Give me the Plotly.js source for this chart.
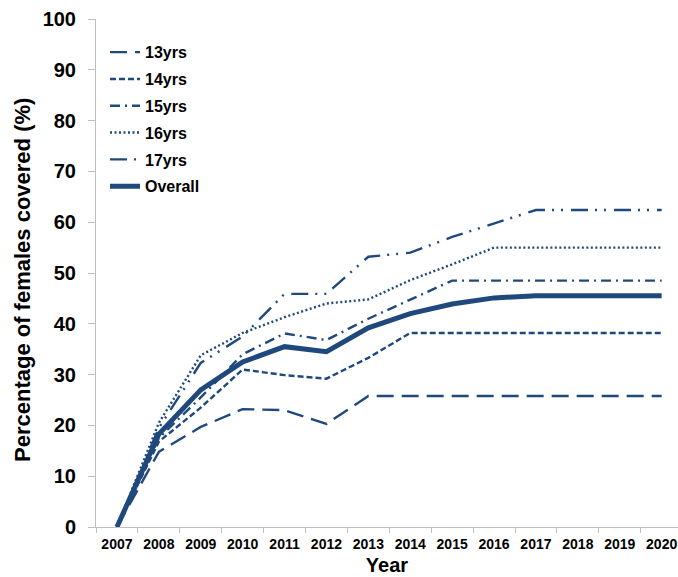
<!DOCTYPE html>
<html>
<head>
<meta charset="utf-8">
<script src="https://cdn.plot.ly/plotly-3.0.1.min.js"></script>
<style>html,body{margin:0;padding:0;background:#fff;}#chart{width:678px;height:577px;}</style>
</head>
<body>
<div id="chart"></div>
<script>
var years = ['2007','2008','2009','2010','2011','2012','2013','2014','2015','2016','2017','2018','2019','2020'];
var y13yrs = [0, 14.8, 19.7, 23.2, 23.0, 20.3, 25.8, 25.8, 25.8, 25.8, 25.8, 25.8, 25.8, 25.8];
var y14yrs = [0, 16.8, 23.5, 31.0, 29.9, 29.2, 33.3, 38.2, 38.2, 38.2, 38.2, 38.2, 38.2, 38.2];
var y15yrs = [0, 17.5, 25.5, 34.0, 38.1, 36.8, 41.0, 44.7, 48.5, 48.5, 48.5, 48.5, 48.5, 48.5];
var y16yrs = [0, 20.5, 33.8, 38.2, 41.3, 44.0, 44.8, 48.6, 51.7, 55.0, 55.0, 55.0, 55.0, 55.0];
var y17yrs = [0, 19.5, 32.3, 37.5, 45.9, 45.9, 53.2, 54.0, 57.1, 59.7, 62.4, 62.4, 62.4, 62.4];
var yOverall = [0, 18.3, 27.0, 32.5, 35.5, 34.5, 39.2, 42.0, 43.9, 45.1, 45.5, 45.5, 45.5, 45.5];
var seriesNames = ['13yrs','14yrs','15yrs','16yrs','17yrs','Overall'];
var yTitle = 'Percentage of females covered (%)';
var xTitle = 'Year';

var col = '#1F497D';
var fontFam = 'Liberation Sans, Arial, sans-serif';
var seriesData = [y13yrs, y14yrs, y15yrs, y16yrs, y17yrs, yOverall];
var dashes = ['17px,8px', '6px,3px', '10px,5px,2px,5px', '2px,2.5px', '17px,7px,2px,7px,2px,8px', 'solid'];
var widths = [2.4, 2.4, 2.4, 2.4, 2.4, 5];

var traces = seriesData.map(function(d, i){
  return {
    type: 'scatter', mode: 'lines', x: years, y: d, name: seriesNames[i],
    legendgroup: 'g' + i,
    line: {color: col, width: widths[i], dash: dashes[i]}
  };
});

var pw = 678 - 96;
var ph = 577 - 19 - 50;
var layout = {
  width: 678, height: 577,
  margin: {l: 96, r: 0, t: 19, b: 50, pad: 0},
  paper_bgcolor: '#fff', plot_bgcolor: '#fff',
  showlegend: true,
  legend: {
    x: 9/pw, xanchor: 'left', y: 0.968, yanchor: 'top',
    bgcolor: 'rgba(0,0,0,0)', borderwidth: 0,
    traceorder: 'grouped', tracegroupgap: 3,
    font: {family: fontFam, size: 16, weight: 700, color: '#000'}
  },
  xaxis: {
    type: 'category',
    range: [-0.5, -0.5 + pw/41.9],
    tickson: 'boundaries',
    ticks: 'outside', ticklen: 5, tickcolor: '#bfbfbf', tickwidth: 1,
    showline: true, linecolor: '#bfbfbf', linewidth: 1,
    showgrid: false, zeroline: false,
    ticklabelstandoff: 4,
    tickfont: {family: fontFam, size: 14, weight: 700, color: '#000'},
    title: {text: xTitle, font: {family: fontFam, size: 20, weight: 700, color: '#000'}, standoff: 7},
    fixedrange: true
  },
  yaxis: {
    range: [0, 100], dtick: 10, tick0: 0,
    ticks: 'outside', ticklen: 7, tickcolor: '#bfbfbf', tickwidth: 1,
    showline: true, linecolor: '#bfbfbf', linewidth: 1,
    showgrid: false, zeroline: false,
    ticklabelstandoff: 8,
    tickfont: {family: fontFam, size: 20, weight: 700, color: '#000'},
    fixedrange: true
  },
  annotations: [{
    text: yTitle, textangle: -90, showarrow: false,
    xref: 'paper', yref: 'paper',
    x: -(96 - 22) / pw, y: (577 - 50 - 280) / ph,
    xanchor: 'center', yanchor: 'middle',
    font: {family: fontFam, size: 22, weight: 700, color: '#000'}
  }]
};

Plotly.newPlot('chart', traces, layout, {displayModeBar: false, staticPlot: true});
</script>
</body>
</html>
